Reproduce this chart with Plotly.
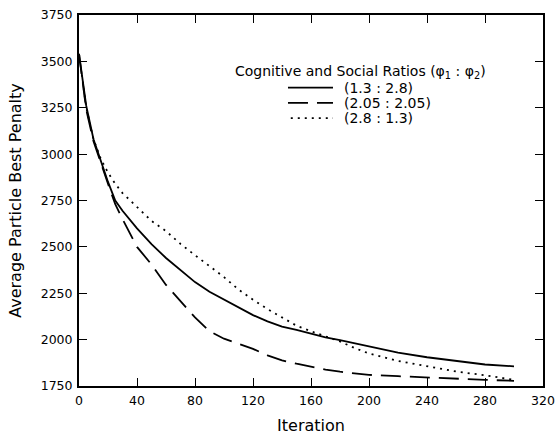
import plotly.graph_objects as go

# Iterations at which the averaged best penalty was sampled
iterations = [0, 5, 10, 15, 20, 25, 30, 40, 50, 60, 70, 80, 90, 100, 110, 120,
              130, 140, 150, 160, 170, 180, 190, 200, 220, 240, 260, 280, 300]

# Average particle best penalty for each (phi1 : phi2) setting
penalty_13_28 = [3540, 3260, 3080, 2960, 2850, 2750, 2695, 2600, 2515, 2440, 2375,
                 2310, 2258, 2215, 2172, 2132, 2098, 2070, 2052, 2030, 2012, 1997,
                 1980, 1962, 1930, 1905, 1885, 1866, 1856]
penalty_205_205 = [3540, 3240, 3070, 2950, 2840, 2730, 2650, 2500, 2405, 2295, 2205,
                   2120, 2045, 2005, 1978, 1950, 1915, 1888, 1870, 1853, 1838, 1827,
                   1817, 1810, 1803, 1795, 1788, 1783, 1778]
penalty_28_13 = [3540, 3250, 3080, 2975, 2900, 2840, 2790, 2715, 2640, 2585, 2516,
                 2455, 2398, 2337, 2270, 2215, 2165, 2120, 2075, 2045, 2018, 1990,
                 1955, 1925, 1885, 1855, 1828, 1808, 1783]

series_names = ["(1.3 : 2.8)", "(2.05 : 2.05)", "(2.8 : 1.3)"]
series_values = [penalty_13_28, penalty_205_205, penalty_28_13]
series_dash = ["solid", "20px,9px", "2px,5px"]

x_ticks = [0, 40, 80, 120, 160, 200, 240, 280, 320]
y_ticks = [1750, 2000, 2250, 2500, 2750, 3000, 3250, 3500, 3750]

FONT = "DejaVu Sans, Verdana, sans-serif"
LINE_WIDTH = 1.8

fig = go.Figure()
for name, vals, dash in zip(series_names, series_values, series_dash):
    fig.add_trace(go.Scatter(
        x=iterations, y=vals, mode="lines", name=name, showlegend=False,
        line=dict(color="black", width=LINE_WIDTH, dash=dash),
    ))

axis_common = dict(
    showgrid=False, zeroline=False, automargin=False,
    showline=True, linecolor="black", linewidth=2, mirror="ticks",
    ticks="inside", ticklen=8, tickwidth=1, tickcolor="black",
    tickfont=dict(family=FONT, size=12.5, color="black"),
    title_font=dict(family=FONT, size=16, color="black"),
)

fig.update_xaxes(
    range=[0, 320], tickvals=x_ticks, title_text="Iteration",
    title_standoff=13, ticklabelstandoff=2, **axis_common,
)
fig.update_yaxes(
    range=[1750, 3750], tickvals=y_ticks,
    title_text="Average Particle Best Penalty",
    title_standoff=15, ticklabelstandoff=2, **axis_common,
)

# Compact key: heading, then a short line sample and label per setting
fig.add_annotation(
    text="Cognitive and Social Ratios (φ<sub>1</sub> : φ<sub>2</sub>)",
    xref="paper", yref="paper", x=0.607, y=0.846,
    xanchor="center", yanchor="middle", showarrow=False,
    font=dict(family=FONT, size=14, color="black"),
)
key_x0, key_x1, key_text_x = 0.4504, 0.5474, 0.5668
key_rows = [0.8043, 0.7633, 0.7223]
for name, dash, ky in zip(series_names, series_dash, key_rows):
    fig.add_shape(
        type="line", xref="paper", yref="paper",
        x0=key_x0 if dash != "2px,5px" else key_x0 + 0.006, x1=key_x1,
        y0=ky, y1=ky,
        line=dict(color="black", width=LINE_WIDTH, dash=dash),
    )
    fig.add_annotation(
        text=name, xref="paper", yref="paper", x=key_text_x, y=ky,
        xanchor="left", yanchor="middle", showarrow=False, height=14,
        font=dict(family=FONT, size=14, color="black"),
    )

fig.update_layout(
    width=559, height=436,
    margin=dict(l=79, r=16, t=15, b=50),
    paper_bgcolor="white", plot_bgcolor="white",
    font=dict(family=FONT, color="black"),
    showlegend=False,
)

fig.write_html("out.html")
